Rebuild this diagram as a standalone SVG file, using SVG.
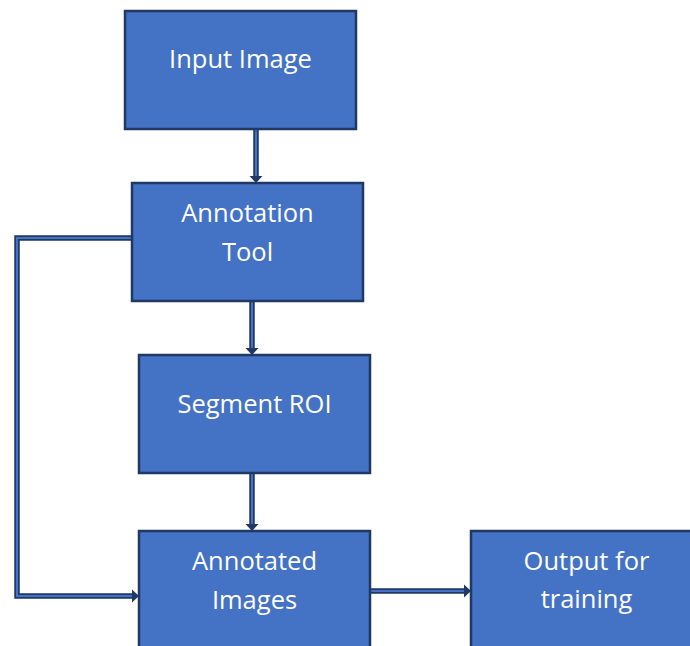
<svg xmlns="http://www.w3.org/2000/svg" width="690" height="646" viewBox="0 0 690 646">
<style>
.box{fill:#4472C4;stroke:#1F3864;stroke-width:2.5}
.lbl{font-family:"Open Sans","Liberation Sans",sans-serif;font-size:25.5px;fill:#ffffff;text-anchor:middle}
.out{fill:none;stroke:#1F3864;stroke-width:5.5;stroke-linejoin:miter}
.in{fill:none;stroke:#4472C4;stroke-width:2;stroke-linejoin:miter}
.head{fill:#1F3864}
</style>
<rect width="690" height="646" fill="#ffffff"/>
<g id="connectors">
<path class="out" d="M256,130 V177"/>
<path class="in" d="M256,130 V176"/>
<polygon class="head" points="249.5,176 262.5,176 256,183"/>
<path class="out" d="M252,302 V349"/>
<path class="in" d="M252,302 V348"/>
<polygon class="head" points="245.5,348 258.5,348 252,355"/>
<path class="out" d="M252,474 V525"/>
<path class="in" d="M252,474 V524"/>
<polygon class="head" points="245.5,524 258.5,524 252,531"/>
<path class="out" d="M131,238 H17 V596 H133"/>
<path class="in" d="M131,238 H17 V596 H132"/>
<polygon class="head" points="132,589.5 132,602.5 139,596"/>
<path class="out" d="M371,591 H465"/>
<path class="in" d="M371,591 H464"/>
<polygon class="head" points="464,584.5 464,597.5 471,591"/>
</g>
<g id="input-image">
<rect class="box" x="125" y="11" width="231" height="118"/>
<text class="lbl" x="240.5" y="68">Input Image</text>
</g>
<g id="annotation-tool">
<rect class="box" x="132" y="183" width="231" height="118"/>
<text class="lbl" x="247.5" y="222">Annotation</text>
<text class="lbl" x="247.5" y="261">Tool</text>
</g>
<g id="segment-roi">
<rect class="box" x="139" y="355" width="231" height="118"/>
<text class="lbl" x="254.5" y="413">Segment ROI</text>
</g>
<g id="annotated-images">
<rect class="box" x="139" y="531" width="231" height="130"/>
<text class="lbl" x="254.5" y="570">Annotated</text>
<text class="lbl" x="254.5" y="609">Images</text>
</g>
<g id="output-training">
<rect class="box" x="471" y="531" width="231" height="130"/>
<text class="lbl" x="586.5" y="570">Output for</text>
<text class="lbl" x="586.5" y="608">training</text>
</g>
</svg>
